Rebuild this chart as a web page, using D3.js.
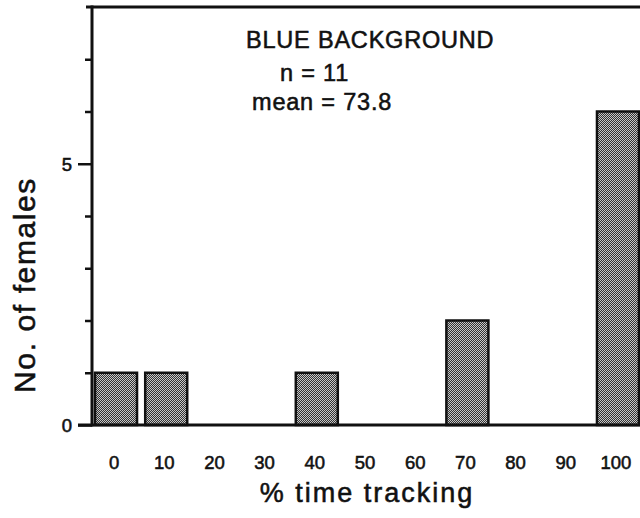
<!DOCTYPE html>
<html>
<head>
<meta charset="utf-8">
<script src="https://cdn.jsdelivr.net/npm/d3@7"></script>
<style>
  html, body { margin: 0; padding: 0; background: #fff; }
  svg { display: block; }
  text { font-family: "Liberation Sans", Arial, Helvetica, sans-serif; fill: #111; stroke: #111; stroke-width: 0.55px; }
</style>
</head>
<body>
<script>
// Histogram of % time tracking (blue background)
const categories = ["0", "10", "20", "30", "40", "50", "60", "70", "80", "90", "100"];
const counts     = [1, 1, 0, 0, 1, 0, 0, 2, 0, 0, 6];
const yTicks     = [0, 1, 2, 3, 4, 5, 6, 7];
const yLabelled  = [0, 5];
const noteLines  = ["BLUE BACKGROUND", "n = 11", "mean = 73.8"];

const W = 640, H = 518;
const svg = d3.select("body").append("svg").attr("width", W).attr("height", H);

const x = d3.scaleBand().domain(categories).range([91, 643])
  .paddingInner(0.163).paddingOuter(0.08);
const y = d3.scaleLinear().domain([0, 8]).range([425, 7]);

// stippled fill for the bars
const defs = svg.append("defs");
const pat = defs.append("pattern").attr("id", "stipple")
  .attr("patternUnits", "userSpaceOnUse").attr("width", 2).attr("height", 2);
pat.append("rect").attr("width", 2).attr("height", 2).attr("fill", "#333");
pat.append("rect").attr("x", 0).attr("y", 0).attr("width", 1).attr("height", 1).attr("fill", "#c8c8c8");
pat.append("rect").attr("x", 1).attr("y", 1).attr("width", 1).attr("height", 1).attr("fill", "#c8c8c8");

// bars
svg.append("g").selectAll("rect")
  .data(categories.map((c, i) => ({ c, v: counts[i] })).filter(d => d.v > 0))
  .join("rect")
  .attr("x", d => x(d.c))
  .attr("y", d => y(d.v))
  .attr("width", x.bandwidth())
  .attr("height", d => y(0) - y(d.v))
  .attr("fill", "url(#stipple)")
  .attr("stroke", "#111")
  .attr("stroke-width", 2.5);

// frame: top line, left axis, baseline
const axisColor = "#111";
svg.append("line").attr("x1", 86).attr("x2", W).attr("y1", y(8)).attr("y2", y(8))
  .attr("stroke", axisColor).attr("stroke-width", 3);
svg.append("line").attr("x1", 78).attr("x2", W).attr("y1", y(0)).attr("y2", y(0))
  .attr("stroke", axisColor).attr("stroke-width", 3);

const yAxis = d3.axisLeft(y).tickValues(yTicks)
  .tickSize(0).tickPadding(0).tickFormat("");
const ya = svg.append("g").attr("transform", "translate(92,0)").call(yAxis);
ya.select(".domain").remove();
svg.append("line").attr("x1", 92).attr("x2", 92).attr("y1", y(8) - 1.5).attr("y2", y(0) + 1.5)
  .attr("stroke", axisColor).attr("stroke-width", 3);
ya.selectAll(".tick line")
  .attr("x2", d => yLabelled.includes(d) ? -14 : -7)
  .attr("stroke", axisColor).attr("stroke-width", 2.5);
ya.selectAll(".tick").filter(d => yLabelled.includes(d)).append("text")
  .attr("x", -20).attr("dy", "0.36em")
  .attr("text-anchor", "end").attr("font-size", 18.5).text(d => d);

// x tick labels
const xa = svg.append("g").attr("transform", `translate(0,${y(0)})`)
  .call(d3.axisBottom(x).tickSize(0).tickPadding(0));
xa.select(".domain").remove();
xa.selectAll(".tick text")
  .attr("y", 44).attr("dy", 0).attr("dx", -2)
  .attr("font-size", 18.5).attr("font-family", null).attr("fill", "#111");

// axis titles
svg.append("text").attr("x", 367).attr("y", 502)
  .attr("text-anchor", "middle").attr("font-size", 27).attr("letter-spacing", 2)
  .text("% time tracking");
svg.append("text").attr("transform", "translate(35,285) rotate(-90)")
  .attr("text-anchor", "middle").attr("font-size", 30).attr("letter-spacing", 1.6)
  .text("No. of females");

// annotation block
const noteX = [246, 280, 252];
const noteY = [48, 81, 110];
svg.append("g").selectAll("text").data(noteLines).join("text")
  .attr("x", (d, i) => noteX[i]).attr("y", (d, i) => noteY[i])
  .attr("font-size", 23.5).attr("letter-spacing", 0.8)
  .text(d => d);
</script>
</body>
</html>
